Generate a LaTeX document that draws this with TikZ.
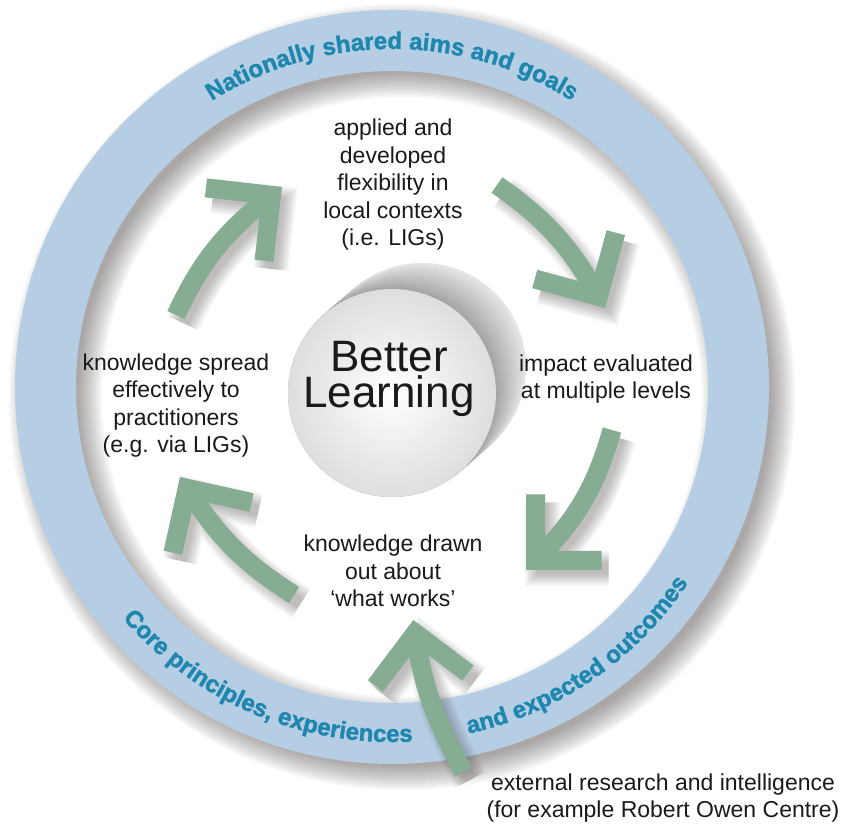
\documentclass[tikz,border=0pt]{standalone}
\usepackage{fontspec}
\setmainfont{Liberation Sans}
\newfontfamily\ringfam[FakeBold=1.6]{Liberation Sans Bold}
\usetikzlibrary{decorations.text,calc}
\definecolor{ringblue}{HTML}{B5CEE4}
\definecolor{ringtext}{HTML}{1F87AF}
\definecolor{arrowgreen}{HTML}{86AD93}
\definecolor{shadowcol}{RGB}{60,50,50}
\definecolor{inktext}{HTML}{1A1A1A}
\newcommand{\ringfont}{\ringfam\fontsize{24}{24}\selectfont\color{ringtext}}
\newcommand{\bodyfont}{\fontsize{23}{27.5}\selectfont}
\newcommand{\cyclearrow}[4]{%
  \begin{scope}[transform canvas={shift={(7pt,-8pt)}}]
    \foreach \w in {11,14,...,35}{%
      \draw[shadowcol, draw opacity=0.04, line width=\w, line join=miter]
        (#1) to[out=#2,in=#4] (#3)
        ([shift={({#4+45}:66pt)}]#3) -- (#3) -- ([shift={({#4-45}:66pt)}]#3);
    }
  \end{scope}
  \draw[arrowgreen, line width=19, line join=miter]
    (#1) to[out=#2,in=#4] (#3)
    ([shift={({#4+45}:66pt)}]#3) -- (#3) -- ([shift={({#4-45}:66pt)}]#3);
}
\tikzset{
  bodytext/.style={inktext, font=\bodyfont, align=center, inner sep=0pt},
}
\begin{document}
\begin{tikzpicture}[x=1pt,y=1pt]
\useasboundingbox (0,0) rectangle (843,824);
\fill[white] (0,0) rectangle (843,824);
\coordinate (C) at (392,437);
\coordinate (Cs) at (402,427);
\coordinate (S) at (392,431);
% ring shadow
\foreach \w in {45,49,...,93}{%
  \draw[shadowcol, draw opacity=0.04, line width=\w] (Cs) circle[radius=346.5pt];
}
% ring
\draw[ringblue, line width=61] (C) circle[radius=346.5pt];
% ring texts
\path[decorate, decoration={text along path, text align=center,
  text={|\ringfont|Nationally shared aims and goals}}]
  ([shift={(150:338pt)}]C) arc[start angle=150, end angle=30, radius=338pt];
\path[decorate, decoration={text along path, text align=center,
  text={|\ringfont|Core principles, experiences}}]
  ([shift={(200:355pt)}]C) arc[start angle=200, end angle=294, radius=355pt];
\path[decorate, decoration={text along path, text align=center,
  text={|\ringfont|and expected outcomes}}]
  ([shift={(270:355pt)}]C) arc[start angle=270, end angle=339, radius=355pt];
% grey stack behind sphere
\foreach \i in {0,...,24}{%
  \pgfmathsetmacro\tt{1-\i/24}
  \pgfmathsetmacro\gg{10+26*\i/24}
  \fill[black!\gg!white] ($(S)+(\tt*30,\tt*26)$) circle[radius=104pt];
}
% sphere
\node[circle, shade, inner color=white, outer color=black!13, minimum size=208pt, inner sep=0pt] (sphere) at (S) {};
\node[inktext, font=\fontsize{44}{36}\selectfont, align=center, inner sep=0pt] (better) at (389,445) {Better\\Learning};
% texts
\node[bodytext] (applied) at (393,639) {applied and\\developed\\flexibility in\\local contexts\\(i.e. LIGs)};
\node[bodytext] (spread) at (176,418.5) {knowledge spread\\effectively to\\practitioners\\(e.g. via LIGs)};
\node[bodytext] (impact) at (606,445) {impact evaluated\\at multiple levels};
\node[bodytext] (drawn) at (393,253) {knowledge drawn\\out about\\‘what works’};
\node[bodytext] (external) at (663,26) {external research and intelligence\\(for example Robert Owen Centre)};
% arrows
\coordinate (t1) at (176,509);   \coordinate (h1) at (271.5,628.7);
\coordinate (t2) at (497,639);   \coordinate (h2) at (598.4,527.6);
\coordinate (t3) at (612,394);   \coordinate (h3) at (535.5,263.5);
\coordinate (t4) at (294,229);   \coordinate (h4) at (187.2,335.7);
\coordinate (t5) at (463.3,52.3); \coordinate (h5) at (415.2,190.7);
\cyclearrow{t1}{65}{h1}{218.5}
\cyclearrow{t2}{-35}{h2}{119.7}
\cyclearrow{t3}{254}{h3}{45}
\cyclearrow{t4}{147.5}{h4}{302.5}
\cyclearrow{t5}{118}{h5}{278}
\end{tikzpicture}
\end{document}
